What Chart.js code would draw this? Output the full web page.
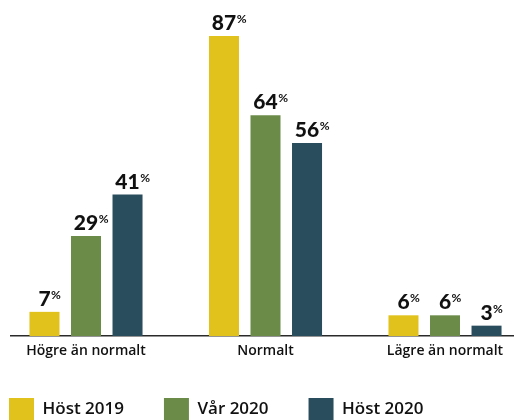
<!DOCTYPE html>
<html>
<head>
<meta charset="utf-8">
<script src="https://cdn.jsdelivr.net/npm/chart.js@4.4.1/dist/chart.umd.min.js"></script>
<style>
  body { margin: 0; background: #fff; }
  #wrap { width: 515px; height: 420px; }
</style>
</head>
<body>
<div id="wrap"><canvas id="myChart"></canvas></div>
<script>
let categories = ["Högre än normalt", "Normalt", "Lägre än normalt"]
let seriesNames = ["Höst 2019", "Vår 2020", "Höst 2020"]
let host2019 = [7, 87, 6]
let var2020 = [29, 64, 6]
let host2020 = [41, 56, 3]
let colors = ["#e1c21c", "#6b8c49", "#2a4d5d"]

let toPoints = (arr) => arr.map((v, i) => ({ x: i, y: v }))

// draws "87%" style labels above bars, % smaller and raised
const valueLabels = {
    id: "valueLabels",
    afterDatasetsDraw(chart) {
        const ctx = chart.ctx
        ctx.save()
        chart.data.datasets.forEach((ds, i) => {
            chart.getDatasetMeta(i).data.forEach((bar, j) => {
                const txt = String(ds.data[j].y)
                const base = bar.y - 6
                ctx.fillStyle = "#111"
                ctx.font = "900 21px Lato"
                ctx.textAlign = "center"
                ctx.textBaseline = "alphabetic"
                ctx.fillText(txt, bar.x, base)
                const w = ctx.measureText(txt).width
                ctx.font = "700 12px Lato"
                ctx.textAlign = "left"
                ctx.fillText("%", bar.x + w / 2 + 0.5, base - 7)
            })
        })
        ctx.restore()
    }
}

new Chart("myChart", {
    type: "bar",
    data: {
        datasets: [
            { label: seriesNames[0], data: toPoints(host2019), backgroundColor: colors[0], borderWidth: 0 },
            { label: seriesNames[1], data: toPoints(var2020), backgroundColor: colors[1], borderWidth: 0 },
            { label: seriesNames[2], data: toPoints(host2020), backgroundColor: colors[2], borderWidth: 0 },
        ]
    },
    options: {
        responsive: true,
        maintainAspectRatio: false,
        animation: false,
        categoryPercentage: 0.694,
        barPercentage: 0.723,
        layout: { padding: { left: -31, right: 2, top: 0, bottom: -10 } },
        scales: {
            x: {
                type: "linear",
                min: -0.4178,
                max: 2.3788,
                offset: false,
                bounds: "data",
                grid: { display: false, drawTicks: false, offset: false },
                border: { display: true, color: "#2a2a2a", width: 1.6 },
                afterBuildTicks: (s) => { s.ticks = categories.map((c, i) => ({ value: i })) },
                ticks: {
                    autoSkip: false,
                    maxRotation: 0,
                    padding: 7,
                    color: "#111",
                    font: { family: "Open Sans", size: 14, weight: "600" },
                    callback: (v) => categories[v]
                },
                afterFit: (s) => { s.height = 22 }
            },
            y: {
                min: 0,
                max: 97.44,
                grid: { display: false, drawTicks: false },
                border: { display: false },
                ticks: { display: false },
                afterFit: (s) => { s.width = 42 }
            }
        },
        plugins: {
            legend: {
                position: "bottom",
                align: "start",
                labels: {
                    boxWidth: 25,
                    boxHeight: 22,
                    padding: 40,
                    color: "#111",
                    font: { family: "Open Sans", size: 17, weight: "600" }
                }
            },
            tooltip: { enabled: false }
        }
    },
    plugins: [valueLabels]
})
</script>
</body>
</html>
